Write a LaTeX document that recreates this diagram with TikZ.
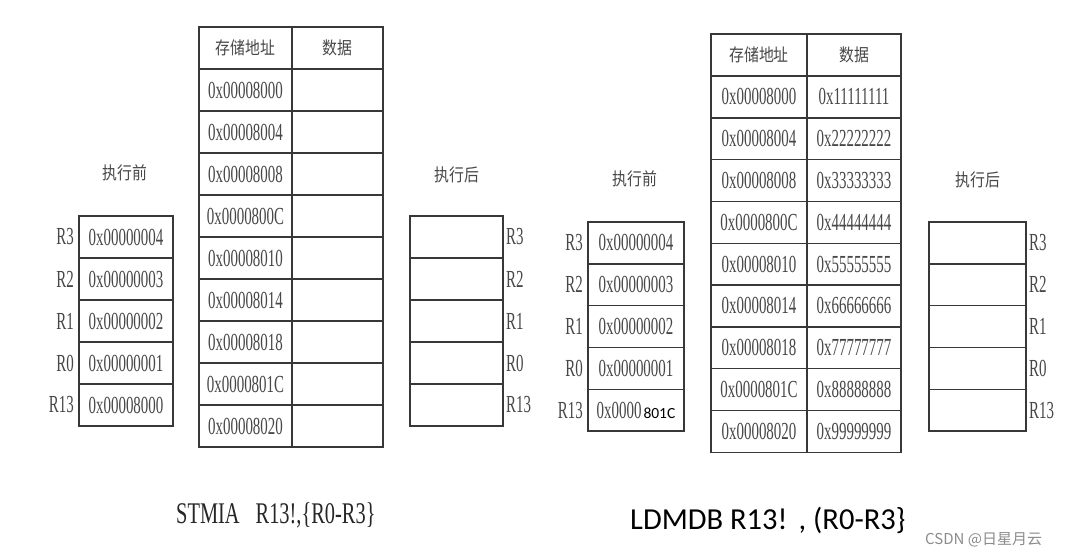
\documentclass[tikz,border=0pt]{standalone}
\usepackage{fontspec}
\newfontfamily\condserif[FakeStretch=0.61]{Liberation Serif}
\newfontfamily\bigserif[FakeStretch=0.68]{Liberation Serif}
\newfontfamily\cjkc[FakeStretch=0.85]{Noto Sans CJK SC}
\newfontfamily\cjkn{Noto Sans CJK SC}
\newfontfamily\calib{Carlito}
\newcommand\tabfont{\condserif\fontsize{24.5}{24.5}\selectfont}
\newcommand\hdfont{\cjkc\fontsize{17.5}{17.5}\selectfont}
\begin{document}
\begin{tikzpicture}[x=1pt,y=-1pt,
  ln/.style={draw=black!78, line width=1.4pt},
  cell/.style={ln, rectangle, inner sep=0pt, text=black!72, font=\tabfont},
  hdcell/.style={cell, font=\hdfont},
  reglabel/.style={inner sep=0pt, text=black!72, font=\tabfont},
  title/.style={inner sep=0pt, text=black!72, font=\hdfont}]
\useasboundingbox[fill=white] (0,0) rectangle (1076,557);

% ---------------- left: memory table ----------------
\node[hdcell, minimum width=93pt, minimum height=42pt] (LHA) at (245.5,48) {存储地址};
\node[hdcell, minimum width=91pt, minimum height=42pt] (LHD) at (337.5,48) {数据};
\foreach \a [count=\i] in {0x00008000,0x00008004,0x00008008,0x0000800C,0x00008010,0x00008014,0x00008018,0x0000801C,0x00008020}{
  \node[cell, minimum width=93pt, minimum height=42pt] (LA\i) at (245.5,{69+42*(\i-0.5)}) {\a};
  \node[cell, minimum width=91pt, minimum height=42pt] (LD\i) at (337.5,{69+42*(\i-0.5)}) {};
}

% ---------------- left: registers before ----------------
\node[title] (LBT) at (125,173) {执行前};
\foreach \r/\v [count=\i] in {R3/0x00000004,R2/0x00000003,R1/0x00000002,R0/0x00000001,R13/0x00008000}{
  \node[cell, minimum width=94pt, minimum height=42pt] (LB\i) at (126,{216+42*(\i-0.5)}) {\v};
  \node[reglabel, anchor=east] (LBL\i) at (74,{216+42*(\i-0.5)}) {\r};
}

% ---------------- left: registers after ----------------
\node[title] (LAT) at (457,175) {执行后};
\foreach \r [count=\i] in {R3,R2,R1,R0,R13}{
  \node[cell, minimum width=93pt, minimum height=42pt] (LR\i) at (456.5,{216+42*(\i-0.5)}) {};
  \node[reglabel, anchor=west] (LRL\i) at (506,{216+42*(\i-0.5)}) {\r};
}

% ---------------- right: memory table ----------------
\node[hdcell, minimum width=96pt, minimum height=42pt] (RHA) at (759,55) {存储地址};
\node[hdcell, minimum width=94pt, minimum height=42pt] (RHD) at (854,55) {数据};
\foreach \a/\d [count=\i] in {0x00008000/0x11111111,0x00008004/0x22222222,0x00008008/0x33333333,0x0000800C/0x44444444,0x00008010/0x55555555,0x00008014/0x66666666,0x00008018/0x77777777,0x0000801C/0x88888888,0x00008020/0x99999999}{
  \node[cell, minimum width=96pt, minimum height=41.8pt] (RA\i) at (759,{76+41.8*(\i-0.5)}) {\a};
  \node[cell, minimum width=94pt, minimum height=41.8pt] (RD\i) at (854,{76+41.8*(\i-0.5)}) {\d};
}

% ---------------- right: registers before ----------------
\node[title] (RBT) at (635,179) {执行前};
\foreach \r/\v [count=\i] in {R3/0x00000004,R2/0x00000003,R1/0x00000002,R0/0x00000001}{
  \node[cell, minimum width=96pt, minimum height=41.8pt] (RB\i) at (636,{222+41.8*(\i-0.5)}) {\v};
  \node[reglabel, anchor=east] (RBL\i) at (583,{222+41.8*(\i-0.5)}) {\r};
}
\node[cell, minimum width=96pt, minimum height=41.8pt] (RB5) at (636,{222+41.8*4.5})
  {0x0000\hspace{2pt}{\calib\fontsize{15.5}{15.5}\selectfont\color{black}801C}};
\node[reglabel, anchor=east] (RBL5) at (583,{222+41.8*4.5}) {R13};

% ---------------- right: registers after ----------------
\node[title] (RAT) at (978,180) {执行后};
\foreach \r [count=\i] in {R3,R2,R1,R0,R13}{
  \node[cell, minimum width=97pt, minimum height=41.8pt] (RR\i) at (977.5,{222+41.8*(\i-0.5)}) {};
  \node[reglabel, anchor=west] (RRL\i) at (1029,{222+41.8*(\i-0.5)}) {\r};
}

% ---------------- captions ----------------
\node[inner sep=0pt, anchor=west, text=black!85, font=\bigserif\fontsize{30}{30}\selectfont] (CAP1) at (176,515) {STMIA\hspace{16pt}R13!,\{R0-R3\}};
\node[inner sep=0pt, anchor=west, text=black, font=\calib\fontsize{30.5}{30.5}\selectfont] (CAP2) at (630,520) {LDMDB R13!\hspace{2pt} , (R0-R3\}};
\node[inner sep=0pt, anchor=west, text=black!45, font=\cjkn\fontsize{15}{15}\selectfont] (WM) at (925,540) {CSDN @日星月云};
\end{tikzpicture}
\end{document}
